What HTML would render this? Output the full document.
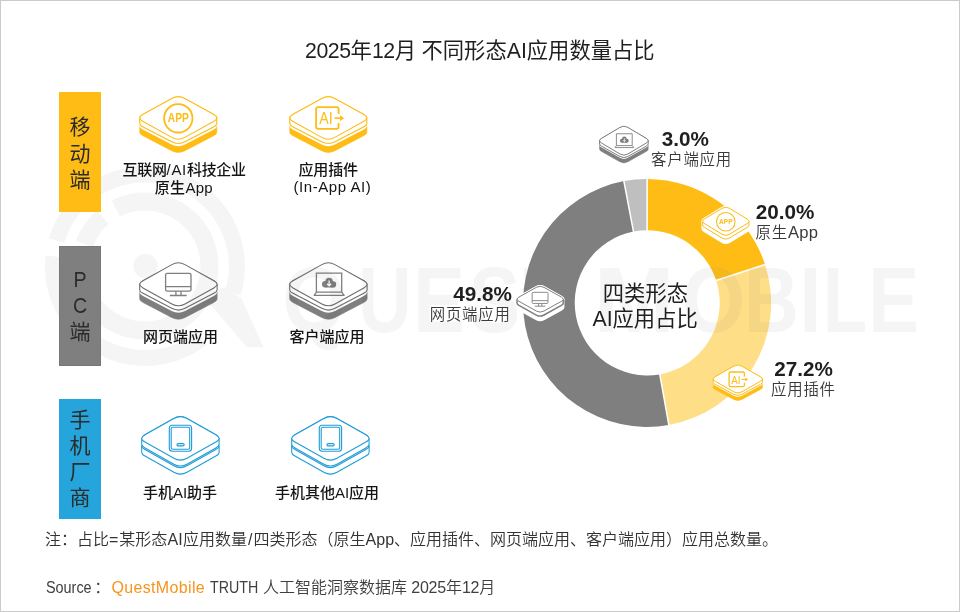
<!DOCTYPE html>
<html lang="zh-CN"><head><meta charset="utf-8"><title>2025年12月 不同形态AI应用数量占比</title><style>
*{margin:0;padding:0;box-sizing:border-box}
html,body{width:960px;height:612px;background:#fff;overflow:hidden}
body{position:relative;font-family:"Liberation Sans","Noto Sans CJK SC",sans-serif;color:#262626}
.frame{position:absolute;left:0;top:0;width:960px;height:612px;border:1px solid #cbcbcb;z-index:5;pointer-events:none}
.t{position:absolute;white-space:nowrap;line-height:1;z-index:4}
.c{transform:translateX(-50%);text-align:center}
.r{transform:translateX(-100%);text-align:right}
.bar{position:absolute;left:59px;width:42px;height:120px;z-index:4}
.bar span{position:absolute;left:0;width:42px;text-align:center;font-size:21px;line-height:1;color:#2b2b2b}
.dg{letter-spacing:-0.45px}
.sg{position:absolute;top:0;display:inline-block;transform-origin:0 50%;white-space:nowrap}
.lab{font-size:15px;letter-spacing:-0.35px;font-weight:500;color:#141414;line-height:18px}
.num{font-size:20.7px;font-weight:700;color:#1f1f1f;font-family:"Liberation Sans",sans-serif}
.sub{font-size:15.4px;letter-spacing:0.8px;color:#3a3a3a;font-weight:350}
</style></head><body>
<svg width="960" height="612" viewBox="0 0 960 612" style="position:absolute;left:0;top:0;z-index:1" font-family="'Liberation Sans', sans-serif"><path d="M647.1 178.9A124 124 0 0 1 765.03 264.58L716.15 280.47A72.6 72.6 0 0 0 647.1 230.3Z" fill="#FEBC14"/><path d="M765.03 264.58A124 124 0 0 1 668.8 424.99L659.81 374.38A72.6 72.6 0 0 0 716.15 280.47Z" fill="#FEDE86"/><path d="M668.8 424.99A124 124 0 0 1 623.86 181.1L633.5 231.59A72.6 72.6 0 0 0 659.81 374.38Z" fill="#7F7F7F"/><path d="M623.86 181.1A124 124 0 0 1 647.1 178.9L647.1 230.3A72.6 72.6 0 0 0 633.5 231.59Z" fill="#BFBFBF"/><path d="M647.1 231.3L647.1 177.9M715.2 280.77L765.98 264.27M659.63 373.39L668.98 425.97M633.68 232.57L623.68 180.11" stroke="#fff" stroke-width="1.5" fill="none"/></svg>
<svg width="960" height="612" viewBox="0 0 960 612" style="position:absolute;left:0;top:0;z-index:2" font-family="'Liberation Sans', sans-serif"><g opacity="0.08"><g fill="#808080" font-weight="700" font-size="89"><text transform="translate(282.61 331.7) scale(0.9213 1.0492)">Q</text><text transform="translate(358.16 331.7) scale(0.8278 1.0492)">U</text><text transform="translate(413.28 331.7) scale(0.8700 1.0492)">E</text><text transform="translate(469.11 331.7) scale(0.8642 1.0492)">S</text><text transform="translate(523.19 331.7) scale(0.8077 1.0492)">T</text><text transform="translate(593.86 331.7) scale(1.0903 1.0492)">M</text><text transform="translate(681.83 331.7) scale(0.9164 1.0492)">O</text><text transform="translate(744.08 331.7) scale(0.8537 1.0492)">B</text><text transform="translate(799.52 331.7) scale(0.8808 1.0492)">I</text><text transform="translate(822.81 331.7) scale(0.8152 1.0492)">L</text><text transform="translate(868.37 331.7) scale(0.8550 1.0492)">E</text></g><g fill="none" stroke="#808080"><path d="M56.56 240.64A92 92 0 1 1 232.98 292.9" stroke-width="16"/><path d="M201.64 338.5A92 92 0 0 1 53.5 256.38" stroke-width="16"/><path d="M115.72 208.53A64.5 64.5 0 1 1 80.98 258.14" stroke-width="18"/><path d="M84.39 243.94A64.5 64.5 0 0 1 102.68 217.32" stroke-width="18"/></g><circle cx="145.5" cy="266" r="12.2" fill="#808080"/><path d="M203 296L225 287L241.4 298.6L263.6 347.2L247 347.2Z" fill="#808080"/></g></svg>
<svg width="960" height="612" viewBox="0 0 960 612" style="position:absolute;left:0;top:0;z-index:3;mix-blend-mode:multiply" font-family="'Liberation Sans', sans-serif"><path d="M139.8 126.18L139.8 132.38Q139.8 134.11 143.13 135.84L171.65 150.67Q178.3 154.13 184.95 150.67L213.47 135.84Q216.8 134.11 216.8 132.38L216.8 126.18Q216.8 124.45 213.47 122.72L184.95 107.89Q178.3 104.43 171.65 107.89L143.13 122.72Q139.8 124.45 139.8 126.18Z" fill="#FEBC14" stroke="#FEBC14" stroke-width="0.67" stroke-linejoin="round"/><path d="M139.8 117.9L139.8 126.18Q139.8 127.91 143.13 129.64L171.65 144.47Q178.3 147.93 184.95 144.47L213.47 129.64Q216.8 127.91 216.8 126.18L216.8 117.9Q216.8 116.17 213.47 114.44L184.95 99.61Q178.3 96.15 171.65 99.61L143.13 114.44Q139.8 116.17 139.8 117.9Z" fill="#fff"/><path d="M139.8 117.9L139.8 123.48Q139.8 125.21 143.13 126.94L171.65 141.77Q178.3 145.23 184.95 141.77L213.47 126.94Q216.8 125.21 216.8 123.48L216.8 117.9Q216.8 116.17 213.47 114.44L184.95 99.61Q178.3 96.15 171.65 99.61L143.13 114.44Q139.8 116.17 139.8 117.9Z" fill="#fff" stroke="#FEBC14" stroke-width="1.12" stroke-linejoin="round"/><path d="M171.74 98.42Q178.3 94.78 184.86 98.42L213.52 114.27Q220.08 117.9 213.52 121.53L184.86 137.38Q178.3 141.02 171.74 137.38L143.08 121.53Q136.52 117.9 143.08 114.27Z" fill="#fff" stroke="#FEBC14" stroke-width="1.12" stroke-linejoin="round"/><g transform="translate(178.3 117.9)"><circle cx="0" cy="0.4" r="14.2" fill="none" stroke="#FEBC14" stroke-width="1.8"/><text x="0" y="4.5" font-size="12" font-weight="700" fill="#FEBC14" text-anchor="middle" textLength="21" lengthAdjust="spacingAndGlyphs">APP</text></g><path d="M289.8 126.18L289.8 132.38Q289.8 134.11 293.13 135.84L321.65 150.67Q328.3 154.13 334.95 150.67L363.47 135.84Q366.8 134.11 366.8 132.38L366.8 126.18Q366.8 124.45 363.47 122.72L334.95 107.89Q328.3 104.43 321.65 107.89L293.13 122.72Q289.8 124.45 289.8 126.18Z" fill="#FEBC14" stroke="#FEBC14" stroke-width="0.67" stroke-linejoin="round"/><path d="M289.8 117.9L289.8 126.18Q289.8 127.91 293.13 129.64L321.65 144.47Q328.3 147.93 334.95 144.47L363.47 129.64Q366.8 127.91 366.8 126.18L366.8 117.9Q366.8 116.17 363.47 114.44L334.95 99.61Q328.3 96.15 321.65 99.61L293.13 114.44Q289.8 116.17 289.8 117.9Z" fill="#fff"/><path d="M289.8 117.9L289.8 123.48Q289.8 125.21 293.13 126.94L321.65 141.77Q328.3 145.23 334.95 141.77L363.47 126.94Q366.8 125.21 366.8 123.48L366.8 117.9Q366.8 116.17 363.47 114.44L334.95 99.61Q328.3 96.15 321.65 99.61L293.13 114.44Q289.8 116.17 289.8 117.9Z" fill="#fff" stroke="#FEBC14" stroke-width="1.12" stroke-linejoin="round"/><path d="M321.74 98.42Q328.3 94.78 334.86 98.42L363.52 114.27Q370.08 117.9 363.52 121.53L334.86 137.38Q328.3 141.02 321.74 137.38L293.08 121.53Q286.52 117.9 293.08 114.27Z" fill="#fff" stroke="#FEBC14" stroke-width="1.12" stroke-linejoin="round"/><g transform="translate(328.3 117.9)"><path d="M10.3 -4L10.3 -8.7Q10.3 -10.7 8.3 -10.7L-10.2 -10.7Q-12.2 -10.7 -12.2 -8.7L-12.2 8.9Q-12.2 10.9 -10.2 10.9L8.3 10.9Q10.3 10.9 10.3 8.9L10.3 5.2" fill="none" stroke="#FEBC14" stroke-width="1.8"/><text x="-2.4" y="6.3" font-size="16.5" fill="#FEBC14" text-anchor="middle" textLength="13.4" lengthAdjust="spacingAndGlyphs">AI</text><path d="M6.3 0.25L12.5 0.25" stroke="#FEBC14" stroke-width="1.62" fill="none"/><path d="M11.8 -2.55L15.8 0.25L11.8 3.05Z" fill="#FEBC14"/></g><path d="M139.7 292.59L139.7 298.99Q139.7 300.73 143.02 302.46L171.75 317.46Q178.4 320.94 185.05 317.46L213.78 302.46Q217.1 300.73 217.1 298.99L217.1 292.59Q217.1 290.85 213.78 289.12L185.05 274.12Q178.4 270.64 171.75 274.12L143.02 289.12Q139.7 290.85 139.7 292.59Z" fill="#7F7F7F" stroke="#7F7F7F" stroke-width="0.66" stroke-linejoin="round"/><path d="M139.7 284.3L139.7 292.59Q139.7 294.33 143.02 296.06L171.75 311.06Q178.4 314.54 185.05 311.06L213.78 296.06Q217.1 294.33 217.1 292.59L217.1 284.3Q217.1 282.56 213.78 280.83L185.05 265.83Q178.4 262.35 171.75 265.83L143.02 280.83Q139.7 282.56 139.7 284.3Z" fill="#fff"/><path d="M139.7 284.3L139.7 289.89Q139.7 291.63 143.02 293.36L171.75 308.36Q178.4 311.84 185.05 308.36L213.78 293.36Q217.1 291.63 217.1 289.89L217.1 284.3Q217.1 282.56 213.78 280.83L185.05 265.83Q178.4 262.35 171.75 265.83L143.02 280.83Q139.7 282.56 139.7 284.3Z" fill="#fff" stroke="#6E6E6E" stroke-width="1.1" stroke-linejoin="round"/><path d="M171.84 264.62Q178.4 260.98 184.96 264.62L213.82 280.66Q220.38 284.3 213.82 287.94L184.96 303.98Q178.4 307.62 171.84 303.98L142.98 287.94Q136.42 284.3 142.98 280.66Z" fill="#fff" stroke="#6E6E6E" stroke-width="1.1" stroke-linejoin="round"/><g transform="translate(178.4 284.3)"><rect x="-12.8" y="-11" width="25.4" height="17.8" rx="1.6" fill="none" stroke="#7F7F7F" stroke-width="1.3"/><path d="M-12.8 2.3H12.6M-2.5 6.8V11.2M2.6 6.8V11.2M-8.6 11.2H8.3" stroke="#7F7F7F" stroke-width="1.3" fill="none"/></g><path d="M289.7 292.59L289.7 298.99Q289.7 300.73 293.02 302.46L321.75 317.46Q328.4 320.94 335.05 317.46L363.78 302.46Q367.1 300.73 367.1 298.99L367.1 292.59Q367.1 290.85 363.78 289.12L335.05 274.12Q328.4 270.64 321.75 274.12L293.02 289.12Q289.7 290.85 289.7 292.59Z" fill="#7F7F7F" stroke="#7F7F7F" stroke-width="0.66" stroke-linejoin="round"/><path d="M289.7 284.3L289.7 292.59Q289.7 294.33 293.02 296.06L321.75 311.06Q328.4 314.54 335.05 311.06L363.78 296.06Q367.1 294.33 367.1 292.59L367.1 284.3Q367.1 282.56 363.78 280.83L335.05 265.83Q328.4 262.35 321.75 265.83L293.02 280.83Q289.7 282.56 289.7 284.3Z" fill="#fff"/><path d="M289.7 284.3L289.7 289.89Q289.7 291.63 293.02 293.36L321.75 308.36Q328.4 311.84 335.05 308.36L363.78 293.36Q367.1 291.63 367.1 289.89L367.1 284.3Q367.1 282.56 363.78 280.83L335.05 265.83Q328.4 262.35 321.75 265.83L293.02 280.83Q289.7 282.56 289.7 284.3Z" fill="#fff" stroke="#6E6E6E" stroke-width="1.1" stroke-linejoin="round"/><path d="M321.84 264.62Q328.4 260.98 334.96 264.62L363.82 280.66Q370.38 284.3 363.82 287.94L334.96 303.98Q328.4 307.62 321.84 303.98L292.98 287.94Q286.42 284.3 292.98 280.66Z" fill="#fff" stroke="#6E6E6E" stroke-width="1.1" stroke-linejoin="round"/><g transform="translate(328.4 284.3)"><path d="M-12 7.8V-11.1H13.3V7.8" fill="none" stroke="#7F7F7F" stroke-width="1.3"/><path d="M-12 7.8H13.3L15.8 11H-14.2Z" fill="none" stroke="#7F7F7F" stroke-width="1.3" stroke-linejoin="round"/><g transform="translate(0.7 -1.2) scale(1)" fill="#7F7F7F"><circle cx="0" cy="-1.6" r="3.8"/><circle cx="-3.9" cy="1.2" r="3.2"/><circle cx="4.0" cy="1.3" r="3.1"/><rect x="-4" y="0" width="8" height="4.4"/><path d="M0 -2.6V2.2M-2 0.6L0 2.8L2 0.6" stroke="#fff" stroke-width="1.3" fill="none"/></g></g><path d="M141.7 445.9L141.7 452.4Q141.7 454.24 144.97 456.07L173.86 472.31Q180.4 475.99 186.94 472.31L215.83 456.07Q219.1 454.24 219.1 452.4L219.1 445.9Q219.1 444.06 215.83 442.23L186.94 425.99Q180.4 422.31 173.86 425.99L144.97 442.23Q141.7 444.06 141.7 445.9Z" fill="#fff" stroke="#1E9CD8" stroke-width="1.05" stroke-linejoin="round"/><path d="M141.7 438.4L141.7 444.3Q141.7 446.14 144.97 447.97L173.86 464.21Q180.4 467.89 186.94 464.21L215.83 447.97Q219.1 446.14 219.1 444.3L219.1 438.4Q219.1 436.56 215.83 434.73L186.94 418.49Q180.4 414.81 173.86 418.49L144.97 434.73Q141.7 436.56 141.7 438.4Z" fill="#fff" stroke="#1E9CD8" stroke-width="1.05" stroke-linejoin="round"/><path d="M141.7 445.9L141.7 445.9Q141.7 447.74 144.97 449.57L173.86 465.81Q180.4 469.49 186.94 465.81L215.83 449.57Q219.1 447.74 219.1 445.9L219.1 445.9" fill="none" stroke="#1E9CD8" stroke-width="1.05" stroke-linejoin="round"/><path d="M173.86 418.49Q180.4 414.81 186.94 418.49L215.83 434.73Q222.37 438.4 215.83 442.07L186.94 458.31Q180.4 461.99 173.86 458.31L144.97 442.07Q138.43 438.4 144.97 434.73Z" fill="#fff" stroke="#1E9CD8" stroke-width="1.05" stroke-linejoin="round"/><g transform="translate(180.4 438.4)"><rect x="-11.1" y="-13.1" width="22.3" height="25.9" rx="3" fill="none" stroke="#1E9CD8" stroke-width="1.1"/><rect x="-9.2" y="-11.2" width="18.5" height="22.1" rx="1.6" fill="none" stroke="#1E9CD8" stroke-width="1.1"/><rect x="-3.4" y="5.2" width="7.2" height="2.3" rx="1.15" fill="none" stroke="#1E9CD8" stroke-width="1.1"/></g><path d="M291.7 445.9L291.7 452.4Q291.7 454.24 294.97 456.07L323.86 472.31Q330.4 475.99 336.94 472.31L365.83 456.07Q369.1 454.24 369.1 452.4L369.1 445.9Q369.1 444.06 365.83 442.23L336.94 425.99Q330.4 422.31 323.86 425.99L294.97 442.23Q291.7 444.06 291.7 445.9Z" fill="#fff" stroke="#1E9CD8" stroke-width="1.05" stroke-linejoin="round"/><path d="M291.7 438.4L291.7 444.3Q291.7 446.14 294.97 447.97L323.86 464.21Q330.4 467.89 336.94 464.21L365.83 447.97Q369.1 446.14 369.1 444.3L369.1 438.4Q369.1 436.56 365.83 434.73L336.94 418.49Q330.4 414.81 323.86 418.49L294.97 434.73Q291.7 436.56 291.7 438.4Z" fill="#fff" stroke="#1E9CD8" stroke-width="1.05" stroke-linejoin="round"/><path d="M291.7 445.9L291.7 445.9Q291.7 447.74 294.97 449.57L323.86 465.81Q330.4 469.49 336.94 465.81L365.83 449.57Q369.1 447.74 369.1 445.9L369.1 445.9" fill="none" stroke="#1E9CD8" stroke-width="1.05" stroke-linejoin="round"/><path d="M323.86 418.49Q330.4 414.81 336.94 418.49L365.83 434.73Q372.37 438.4 365.83 442.07L336.94 458.31Q330.4 461.99 323.86 458.31L294.97 442.07Q288.43 438.4 294.97 434.73Z" fill="#fff" stroke="#1E9CD8" stroke-width="1.05" stroke-linejoin="round"/><g transform="translate(330.4 438.4)"><rect x="-11.1" y="-13.1" width="22.3" height="25.9" rx="3" fill="none" stroke="#1E9CD8" stroke-width="1.1"/><rect x="-9.2" y="-11.2" width="18.5" height="22.1" rx="1.6" fill="none" stroke="#1E9CD8" stroke-width="1.1"/><rect x="-3.4" y="5.2" width="7.2" height="2.3" rx="1.15" fill="none" stroke="#1E9CD8" stroke-width="1.1"/></g></svg>
<svg width="960" height="612" viewBox="0 0 960 612" style="position:absolute;left:0;top:0;z-index:3" font-family="'Liberation Sans', sans-serif"><path d="M599.6 145.37L599.6 149.27Q599.6 150.4 601.61 151.52L619.89 161.77Q623.9 164.03 627.91 161.77L646.19 151.52Q648.2 150.4 648.2 149.27L648.2 145.37Q648.2 144.24 646.19 143.12L627.91 132.87Q623.9 130.61 619.89 132.87L601.61 143.12Q599.6 144.24 599.6 145.37Z" fill="#7F7F7F" stroke="#7F7F7F" stroke-width="0.54" stroke-linejoin="round"/><path d="M599.6 140.7L599.6 145.37Q599.6 146.5 601.61 147.62L619.89 157.87Q623.9 160.13 627.91 157.87L646.19 147.62Q648.2 146.5 648.2 145.37L648.2 140.7Q648.2 139.57 646.19 138.45L627.91 128.2Q623.9 125.94 619.89 128.2L601.61 138.45Q599.6 139.57 599.6 140.7Z" fill="#fff"/><path d="M599.6 140.7L599.6 143.97Q599.6 145.1 601.61 146.22L619.89 156.47Q623.9 158.73 627.91 156.47L646.19 146.22Q648.2 145.1 648.2 143.97L648.2 140.7Q648.2 139.57 646.19 138.45L627.91 128.2Q623.9 125.94 619.89 128.2L601.61 138.45Q599.6 139.57 599.6 140.7Z" fill="#fff" stroke="#6E6E6E" stroke-width="0.9" stroke-linejoin="round"/><path d="M619.95 127.38Q623.9 125.02 627.85 127.38L646.22 138.34Q650.18 140.7 646.22 143.06L627.85 154.02Q623.9 156.38 619.95 154.02L601.58 143.06Q597.62 140.7 601.58 138.34Z" fill="#fff" stroke="#6E6E6E" stroke-width="0.9" stroke-linejoin="round"/><g transform="translate(623.9 140.7)"><path d="M-7.5 4.88V-6.94H8.31V4.88" fill="none" stroke="#7F7F7F" stroke-width="0.9"/><path d="M-7.5 4.88H8.31L9.88 6.88H-8.88Z" fill="none" stroke="#7F7F7F" stroke-width="0.9" stroke-linejoin="round"/><g transform="translate(0.44 -0.75) scale(0.62)" fill="#7F7F7F"><circle cx="0" cy="-1.6" r="3.8"/><circle cx="-3.9" cy="1.2" r="3.2"/><circle cx="4.0" cy="1.3" r="3.1"/><rect x="-4" y="0" width="8" height="4.4"/><path d="M0 -2.6V2.2M-2 0.6L0 2.8L2 0.6" stroke="#fff" stroke-width="1.3" fill="none"/></g></g><path d="M702.6 221.3L702.6 228.7Q702.6 229.84 704.48 230.99L722.04 241.66Q725.8 243.94 729.56 241.66L747.12 230.99Q749 229.84 749 228.7L749 221.3Q749 220.16 747.12 219.01L729.56 208.34Q725.8 206.06 722.04 208.34L704.48 219.01Q702.6 220.16 702.6 221.3Z" fill="#fff" stroke="#fff" stroke-width="2.4" stroke-linejoin="round"/><path d="M722.04 208.34Q725.8 206.06 729.56 208.34L747.12 219.01Q750.88 221.3 747.12 223.59L729.56 234.26Q725.8 236.54 722.04 234.26L704.48 223.59Q700.72 221.3 704.48 219.01Z" fill="#fff" stroke="#fff" stroke-width="2.4" stroke-linejoin="round"/><path d="M702.6 221.3L702.6 225.1Q702.6 226.24 704.48 227.39L722.04 238.06Q725.8 240.34 729.56 238.06L747.12 227.39Q749 226.24 749 225.1L749 221.3" fill="none" stroke="#FEBC14" stroke-width="1" stroke-linejoin="round"/><path d="M722.04 208.34Q725.8 206.06 729.56 208.34L747.12 219.01Q750.88 221.3 747.12 223.59L729.56 234.26Q725.8 236.54 722.04 234.26L704.48 223.59Q700.72 221.3 704.48 219.01Z" fill="#fff" stroke="#FEBC14" stroke-width="1" stroke-linejoin="round"/><g transform="translate(725.8 221.3)"><circle cx="0" cy="0.4" r="9.3" fill="none" stroke="#FEBC14" stroke-width="1.05"/><text x="0" y="2.95" font-size="7.2" font-weight="700" fill="#FEBC14" text-anchor="middle" textLength="13.4" lengthAdjust="spacingAndGlyphs">APP</text></g><path d="M713.2 383.64L713.2 387.34Q713.2 388.42 715.23 389.51L733.74 399.42Q737.8 401.58 741.86 399.42L760.37 389.51Q762.4 388.42 762.4 387.34L762.4 383.64Q762.4 382.56 760.37 381.47L741.86 371.56Q737.8 369.4 733.74 371.56L715.23 381.47Q713.2 382.56 713.2 383.64Z" fill="#FEBC14" stroke="#FEBC14" stroke-width="0.6" stroke-linejoin="round"/><path d="M713.2 379L713.2 383.64Q713.2 384.72 715.23 385.81L733.74 395.72Q737.8 397.88 741.86 395.72L760.37 385.81Q762.4 384.72 762.4 383.64L762.4 379Q762.4 377.92 760.37 376.83L741.86 366.92Q737.8 364.76 733.74 366.92L715.23 376.83Q713.2 377.92 713.2 379Z" fill="#fff"/><path d="M713.2 379L713.2 382.24Q713.2 383.32 715.23 384.41L733.74 394.32Q737.8 396.48 741.86 394.32L760.37 384.41Q762.4 383.32 762.4 382.24L762.4 379Q762.4 377.92 760.37 376.83L741.86 366.92Q737.8 364.76 733.74 366.92L715.23 376.83Q713.2 377.92 713.2 379Z" fill="#fff" stroke="#FEBC14" stroke-width="1" stroke-linejoin="round"/><path d="M733.8 366.14Q737.8 363.86 741.8 366.14L760.4 376.72Q764.4 379 760.4 381.28L741.8 391.86Q737.8 394.14 733.8 391.86L715.2 381.28Q711.2 379 715.2 376.72Z" fill="#fff" stroke="#FEBC14" stroke-width="1" stroke-linejoin="round"/><g transform="translate(737.8 379)"><g transform="translate(-0.4 0.3)"><path d="M7 -2.72L7 -5.92Q7 -7.28 5.64 -7.28L-6.94 -7.28Q-8.3 -7.28 -8.3 -5.92L-8.3 6.05Q-8.3 7.41 -6.94 7.41L5.64 7.41Q7 7.41 7 6.05L7 3.54" fill="none" stroke="#FEBC14" stroke-width="1.3"/><text x="-1.63" y="4.28" font-size="11.2" fill="#FEBC14" text-anchor="middle" textLength="9.2" lengthAdjust="spacingAndGlyphs">AI</text><path d="M4.28 0.17L8.5 0.17" stroke="#FEBC14" stroke-width="1.17" fill="none"/><path d="M8.02 -1.73L10.74 0.17L8.02 2.07Z" fill="#FEBC14"/></g></g><path d="M517.05 299.2L517.05 307.2Q517.05 308.27 518.97 309.35L536.31 319.03Q540.15 321.17 543.99 319.03L561.33 309.35Q563.25 308.27 563.25 307.2L563.25 299.2Q563.25 298.13 561.33 297.05L543.99 287.37Q540.15 285.23 536.31 287.37L518.97 297.05Q517.05 298.13 517.05 299.2Z" fill="#fff" stroke="#fff" stroke-width="2.4" stroke-linejoin="round"/><path d="M536.31 287.37Q540.15 285.23 543.99 287.37L561.33 297.05Q565.17 299.2 561.33 301.35L543.99 311.03Q540.15 313.17 536.31 311.03L518.97 301.35Q515.13 299.2 518.97 297.05Z" fill="#fff" stroke="#fff" stroke-width="2.4" stroke-linejoin="round"/><path d="M517.05 299.2L517.05 303.2Q517.05 304.27 518.97 305.35L536.31 315.03Q540.15 317.17 543.99 315.03L561.33 305.35Q563.25 304.27 563.25 303.2L563.25 299.2" fill="none" stroke="#7F7F7F" stroke-width="1.5" stroke-linejoin="round"/><path d="M536.31 287.37Q540.15 285.23 543.99 287.37L561.33 297.05Q565.17 299.2 561.33 301.35L543.99 311.03Q540.15 313.17 536.31 311.03L518.97 301.35Q515.13 299.2 518.97 297.05Z" fill="#fff" stroke="#7F7F7F" stroke-width="1" stroke-linejoin="round"/><g transform="translate(540.15 299.2)"><rect x="-8" y="-6.88" width="15.88" height="11.12" rx="1" fill="none" stroke="#7F7F7F" stroke-width="0.9"/><path d="M-8 1.44H7.88M-1.56 4.25V7M1.62 4.25V7M-5.38 7H5.19" stroke="#7F7F7F" stroke-width="0.9" fill="none"/></g></svg>
<div class="frame"></div>
<div class="t" id="title" style="left:305px;top:40.5px;font-size:21.3px;color:#1f1f1f"><span class="dg">2025</span>年<span class="dg">12</span>月<span style="margin-left:5.5px">不同形态AI应用数量占比</span></div>
<div class="bar" style="top:92px;background:#FEBC14"><span style="top:24px">移</span><span style="top:51px">动</span><span style="top:77px">端</span></div>
<div class="bar" style="top:246px;background:#7F7F7F;box-shadow:inset 0 0 0 1px #777"><span style="top:22.5px;font-size:22.6px;transform:scaleX(0.87)">P</span><span style="top:48.8px;font-size:22.6px;transform:scaleX(0.87)">C</span><span style="top:75px">端</span></div>
<div class="bar" style="top:399px;background:#25A5DB"><span style="top:10px">手</span><span style="top:36px">机</span><span style="top:62px">厂</span><span style="top:88px">商</span></div>
<div class="t c lab" id="l1" style="left:184.1px;top:160.6px">互联网<span style="letter-spacing:0.7px">/AI</span>科技企业</div>
<div class="t c lab" id="l1b" style="left:183.9px;top:179.4px;letter-spacing:0.3px">原生App</div>
<div class="t c lab" id="l2" style="left:328.2px;top:160.7px;letter-spacing:-0.1px">应用插件</div>
<div class="t c lab" id="l2b" style="left:332.4px;top:178.2px;letter-spacing:0.55px">(In-App AI)</div>
<div class="t c lab" id="l3" style="left:180.4px;top:328.3px;letter-spacing:0">网页端应用</div>
<div class="t c lab" id="l4" style="left:327px;top:328.3px;letter-spacing:0">客户端应用</div>
<div class="t c lab" id="l5" style="left:180px;top:484.2px;letter-spacing:0">手机AI助手</div>
<div class="t c lab" id="l6" style="left:327px;top:484.2px;letter-spacing:0">手机其他AI应用</div>
<div class="t num" id="n1" style="left:661.8px;top:128.6px">3.0%</div><div class="t sub" id="s1" style="left:651px;top:151.5px">客户端应用</div>
<div class="t num" id="n2" style="left:755.7px;top:202.2px">20.0%</div><div class="t sub" id="s2" style="left:755.5px;top:224.8px">原生<span style="letter-spacing:0.3px;font-size:16.6px">App</span></div>
<div class="t num" id="n3" style="left:774.3px;top:358.5px">27.2%</div><div class="t sub" id="s3" style="left:771px;top:382px">应用插件</div>
<div class="t num r" id="n4" style="left:511.8px;top:283.7px">49.8%</div><div class="t sub r" id="s4" style="left:510.7px;top:307.2px">网页端应用</div>
<div class="t c" id="c1" style="left:645.4px;top:283.6px;font-size:21.3px;letter-spacing:0;color:#1f1f1f">四类形态</div>
<div class="t c" id="c2" style="left:645.1px;top:309.2px;font-size:21.3px;letter-spacing:0;color:#1f1f1f">AI应用占比</div>
<div class="t" id="note" style="left:45px;top:531.5px;font-size:16px;color:#333;font-weight:350">注：占比<span style="letter-spacing:1px">=</span>某形态<span style="letter-spacing:0.3px">AI</span>应用数量<span style="letter-spacing:1px;margin-left:1px">/</span>四类形态（原生App、应用插件、网页端应用、客户端应用）应用总数量。</div>
<div class="t" id="src" style="left:0;top:579.9px;font-size:16px;color:#404040;font-weight:350;width:600px;height:18px"><span class="sg" id="srcA" style="left:46.2px;transform:scaleX(0.9)">Source</span><span class="sg" id="srcB" style="left:94.3px">：</span><span class="sg" id="srcC" style="left:111.4px;color:#F7941D;letter-spacing:0.35px">QuestMobile</span><span class="sg" id="srcD" style="left:209.7px;transform:scaleX(0.89)">TRUTH</span><span class="sg" id="srcE" style="left:263px">人工智能洞察数据库</span><span class="sg" id="srcF" style="left:411.3px"><span style="letter-spacing:-0.25px">2025</span>年<span style="letter-spacing:-0.25px">12</span>月</span></div>
</body></html>
